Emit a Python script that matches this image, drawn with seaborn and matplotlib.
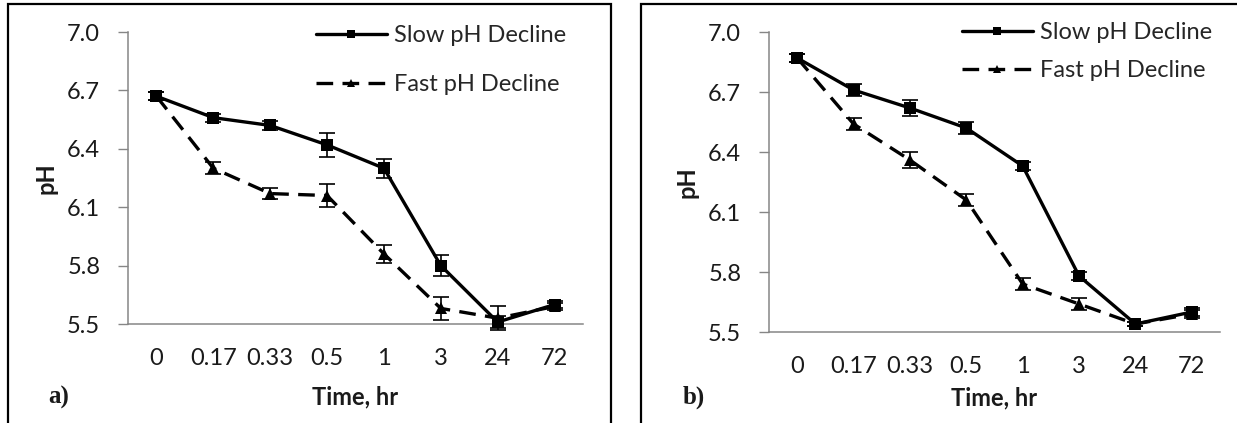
import numpy as np
import pandas as pd
import matplotlib
matplotlib.use("Agg")
import matplotlib.pyplot as plt
from matplotlib.patches import Rectangle
import seaborn as sns

# Sampling times (hours), shown as evenly spaced categories
times = ["0", "0.17", "0.33", "0.5", "1", "3", "24", "72"]

# Panel a) mean pH and error
a_slow = [6.67, 6.56, 6.52, 6.42, 6.30, 5.80, 5.51, 5.60]
a_slow_err = [0.02, 0.02, 0.025, 0.06, 0.05, 0.055, 0.03, 0.02]
a_fast = [6.67, 6.30, 6.17, 6.16, 5.86, 5.58, 5.53, 5.59]
a_fast_err = [0.02, 0.03, 0.03, 0.06, 0.045, 0.06, 0.06, 0.02]

# Panel b) mean pH and error
b_slow = [6.87, 6.71, 6.62, 6.52, 6.33, 5.78, 5.54, 5.60]
b_slow_err = [0.02, 0.03, 0.04, 0.03, 0.02, 0.02, 0.01, 0.02]
b_fast = [6.87, 6.54, 6.36, 6.16, 5.74, 5.64, 5.54, 5.59]
b_fast_err = [0.02, 0.03, 0.04, 0.03, 0.03, 0.03, 0.01, 0.02]

series_names = ["Slow pH Decline", "Fast pH Decline"]
y_ticks = [5.5, 5.8, 6.1, 6.4, 6.7, 7.0]

sns.set_style("white")
plt.rcParams["font.family"] = ["Lato", "DejaVu Sans"]

W, H = 1237, 423
fig = plt.figure(figsize=(W / 100, H / 100), dpi=100)

AXIS_GREY = "#868686"
TEXT = "#1a1a1a"
DASH = (5.0, 2.8)
FS = 17


def px_box(left, right, top, bottom):
    return [left / W, 1 - bottom / H, (right - left) / W, (bottom - top) / H]


def draw_panel(ax, slow, slow_err, fast, fast_err, xmax, legend_anchor,
               legend_spacing, xlabel_pad):
    df = pd.DataFrame({
        "Time": times * 2,
        "pH": slow + fast,
        "Series": [series_names[0]] * len(times) + [series_names[1]] * len(times),
    })
    pos = np.arange(len(times))
    # error bars under the lines
    for vals, errs in ((slow, slow_err), (fast, fast_err)):
        ax.errorbar(pos, vals, yerr=errs, fmt="none", ecolor="black",
                    elinewidth=1.2, capsize=5.5, capthick=1.2, zorder=2, clip_on=False)
    sns.lineplot(data=df, x="Time", y="pH", hue="Series", style="Series",
                 palette={series_names[0]: "black", series_names[1]: "black"},
                 dashes={series_names[0]: "", series_names[1]: DASH},
                 markers={series_names[0]: "s", series_names[1]: "^"},
                 markersize=8.5, markeredgewidth=0, linewidth=2.4,
                 sort=False, ax=ax, zorder=3, clip_on=False)
    ax.set_ylim(5.5, 7.0)
    ax.set_xlim(-0.5, xmax)
    ax.set_yticks(y_ticks)
    ax.set_yticklabels([f"{v:.1f}" for v in y_ticks])
    ax.set_xticks(pos)
    ax.set_xticklabels(times)
    # tick marks sit on category boundaries
    ax.set_xticks(np.arange(-0.5, len(times) - 0.4, 1.0), minor=True)
    ax.tick_params(axis="x", which="major", length=0, pad=17, labelsize=FS, colors=TEXT)
    ax.tick_params(axis="x", which="minor", length=7, width=1, color=AXIS_GREY, direction="out")
    ax.tick_params(axis="y", length=7, width=1, color=AXIS_GREY, labelcolor=TEXT,
                   labelsize=FS, pad=13, direction="out", left=True)
    for side in ["top", "right"]:
        ax.spines[side].set_visible(False)
    for side in ["left", "bottom"]:
        ax.spines[side].set_color(AXIS_GREY)
        ax.spines[side].set_linewidth(1.1)
    ax.set_xlabel("Time, hr", fontsize=FS, fontweight="bold", color=TEXT,
                  labelpad=xlabel_pad)
    ax.set_ylabel("pH", fontsize=FS, fontweight="bold", color=TEXT, labelpad=7)
    handles, labels = ax.get_legend_handles_labels()
    ax.legend(handles, labels, loc="upper left", bbox_to_anchor=legend_anchor,
              bbox_transform=fig.transFigure, frameon=False, fontsize=FS,
              handlelength=3.0, handletextpad=0.3, labelspacing=legend_spacing,
              markerscale=0.7, borderaxespad=0, borderpad=0)


ax_a = fig.add_axes(px_box(128, 583, 32, 324))
draw_panel(ax_a, a_slow, a_slow_err, a_fast, a_fast_err, 7.5,
           (316 / W, 1 - 25 / H), 1.2, 12)

ax_b = fig.add_axes(px_box(769, 1220, 32, 332))
draw_panel(ax_b, b_slow, b_slow_err, b_fast, b_fast_err, 7.24,
           (962 / W, 1 - 22 / H), 0.72, 7)

# panel frames
fig.add_artist(Rectangle((8 / W, -0.1), (611 - 8) / W, 1.1 - 4 / H,
                         transform=fig.transFigure, fill=False, lw=1.6,
                         edgecolor="black"))
fig.add_artist(Rectangle((641 / W, -0.1), 1.0, 1.1 - 4 / H,
                         transform=fig.transFigure, fill=False, lw=1.6,
                         edgecolor="black"))

# panel letters
fig.text(59 / W, 1 - 397 / H, "a)", family="Liberation Serif", fontweight="bold",
         fontsize=18, ha="center", va="center", color=TEXT)
fig.text(694 / W, 1 - 397 / H, "b)", family="Liberation Serif", fontweight="bold",
         fontsize=18, ha="center", va="center", color=TEXT)

fig.savefig("out.png", dpi=100)
